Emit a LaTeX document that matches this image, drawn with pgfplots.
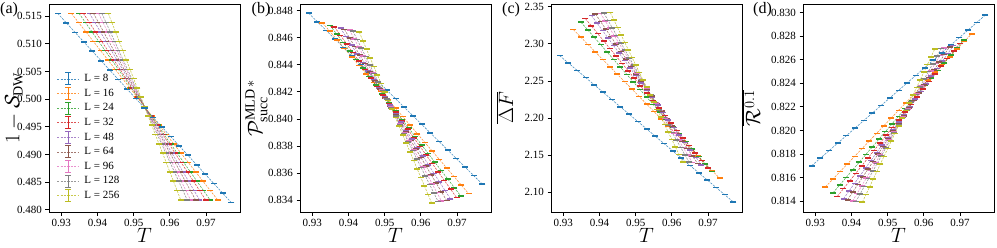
\documentclass[border=0pt]{standalone}
\usepackage{fontspec}
\setmainfont{Liberation Serif}
\usepackage{pgfplots}
\usepackage{pgfplotstable}
\pgfplotsset{compat=1.18}

\definecolor{c0}{HTML}{1F77B4}
\definecolor{c1}{HTML}{FF7F0E}
\definecolor{c2}{HTML}{2CA02C}
\definecolor{c3}{HTML}{D62728}
\definecolor{c4}{HTML}{9467BD}
\definecolor{c5}{HTML}{8C564B}
\definecolor{c6}{HTML}{E377C2}
\definecolor{c7}{HTML}{7F7F7F}
\definecolor{c8}{HTML}{BCBD22}

% columns: T, a = 1-S_DW, b = P_succ, c = DeltaF, d = R^0.1
\pgfplotstableread{
T a b c d
0.9290 0.51550 0.84780 2.28400 0.81700
0.9314 0.51379 0.84717 2.27415 0.81764
0.9338 0.51208 0.84654 2.26430 0.81828
0.9362 0.51037 0.84591 2.25445 0.81892
0.9386 0.50866 0.84528 2.24460 0.81956
0.9410 0.50695 0.84465 2.23475 0.82020
0.9434 0.50524 0.84402 2.22490 0.82084
0.9458 0.50353 0.84339 2.21505 0.82148
0.9482 0.50182 0.84276 2.20520 0.82212
0.9506 0.50011 0.84213 2.19535 0.82276
0.9530 0.49840 0.84150 2.18550 0.82340
0.9554 0.49669 0.84087 2.17565 0.82404
0.9578 0.49498 0.84024 2.16580 0.82468
0.9602 0.49327 0.83961 2.15595 0.82532
0.9626 0.49156 0.83898 2.14610 0.82596
0.9650 0.48985 0.83835 2.13625 0.82660
0.9674 0.48814 0.83772 2.12640 0.82724
0.9698 0.48643 0.83709 2.11655 0.82788
0.9722 0.48472 0.83646 2.10670 0.82852
0.9746 0.48301 0.83583 2.09685 0.82916
0.9770 0.48130 0.83520 2.08700 0.82980
}\dA

\pgfplotstableread{
T a b c d
0.93280 0.51550 0.84710 2.319 0.81520
0.93482 0.51382 0.84647 2.309 0.81585
0.93684 0.51213 0.84584 2.299 0.81650
0.93886 0.51045 0.84521 2.289 0.81715
0.94088 0.50876 0.84458 2.279 0.81780
0.94290 0.50708 0.84395 2.269 0.81845
0.94492 0.50539 0.84332 2.259 0.81910
0.94694 0.50371 0.84269 2.249 0.81975
0.94896 0.50202 0.84206 2.239 0.82040
0.95098 0.50034 0.84143 2.229 0.82105
0.95300 0.49865 0.84080 2.219 0.82170
0.95502 0.49697 0.84017 2.209 0.82235
0.95704 0.49528 0.83954 2.199 0.82300
0.95906 0.49360 0.83891 2.189 0.82365
0.96108 0.49191 0.83828 2.179 0.82430
0.96310 0.49023 0.83765 2.169 0.82495
0.96512 0.48854 0.83702 2.159 0.82560
0.96714 0.48686 0.83639 2.149 0.82625
0.96916 0.48517 0.83576 2.139 0.82690
0.97118 0.48349 0.83513 2.129 0.82755
0.97320 0.48180 0.83450 2.119 0.82820
}\dB

\pgfplotstableread{
T a b c d
0.93490 0.51550 0.84690 2.32900 0.81470
0.93671 0.51382 0.84627 2.31895 0.81535
0.93852 0.51213 0.84564 2.30890 0.81600
0.94033 0.51045 0.84501 2.29885 0.81665
0.94214 0.50876 0.84438 2.28880 0.81730
0.94395 0.50708 0.84375 2.27875 0.81795
0.94576 0.50539 0.84312 2.26870 0.81860
0.94757 0.50371 0.84249 2.25865 0.81925
0.94938 0.50202 0.84186 2.24860 0.81990
0.95119 0.50034 0.84123 2.23855 0.82055
0.95300 0.49865 0.84060 2.22850 0.82120
0.95481 0.49697 0.83997 2.21845 0.82185
0.95662 0.49528 0.83934 2.20840 0.82250
0.95843 0.49360 0.83871 2.19835 0.82315
0.96024 0.49191 0.83808 2.18830 0.82380
0.96205 0.49023 0.83745 2.17825 0.82445
0.96386 0.48854 0.83682 2.16820 0.82510
0.96567 0.48686 0.83619 2.15815 0.82575
0.96748 0.48517 0.83556 2.14810 0.82640
0.96929 0.48349 0.83493 2.13805 0.82705
0.97110 0.48180 0.83430 2.12800 0.82770
}\dC

\pgfplotstableread{
T a b c d
0.93610 0.51550 0.84680 2.33400 0.81440
0.93779 0.51382 0.84617 2.32395 0.81505
0.93948 0.51213 0.84554 2.31390 0.81570
0.94117 0.51045 0.84491 2.30385 0.81635
0.94286 0.50876 0.84428 2.29380 0.81700
0.94455 0.50708 0.84365 2.28375 0.81765
0.94624 0.50539 0.84302 2.27370 0.81830
0.94793 0.50371 0.84239 2.26365 0.81895
0.94962 0.50202 0.84176 2.25360 0.81960
0.95131 0.50034 0.84113 2.24355 0.82025
0.95300 0.49865 0.84050 2.23350 0.82090
0.95469 0.49697 0.83987 2.22345 0.82155
0.95638 0.49528 0.83924 2.21340 0.82220
0.95807 0.49360 0.83861 2.20335 0.82285
0.95976 0.49191 0.83798 2.19330 0.82350
0.96145 0.49023 0.83735 2.18325 0.82415
0.96314 0.48854 0.83672 2.17320 0.82480
0.96483 0.48686 0.83609 2.16315 0.82545
0.96652 0.48517 0.83546 2.15310 0.82610
0.96821 0.48349 0.83483 2.14305 0.82675
0.96990 0.48180 0.83420 2.13300 0.82740
}\dD

\pgfplotstableread{
T a b c d
0.93780 0.51550 0.84670 2.33800 0.81420
0.93932 0.51382 0.84607 2.32795 0.81485
0.94084 0.51213 0.84544 2.31790 0.81550
0.94236 0.51045 0.84481 2.30785 0.81615
0.94388 0.50876 0.84418 2.29780 0.81680
0.94540 0.50708 0.84355 2.28775 0.81745
0.94692 0.50539 0.84292 2.27770 0.81810
0.94844 0.50371 0.84229 2.26765 0.81875
0.94996 0.50202 0.84166 2.25760 0.81940
0.95148 0.50034 0.84103 2.24755 0.82005
0.95300 0.49865 0.84040 2.23750 0.82070
0.95452 0.49697 0.83977 2.22745 0.82135
0.95604 0.49528 0.83914 2.21740 0.82200
0.95756 0.49360 0.83851 2.20735 0.82265
0.95908 0.49191 0.83788 2.19730 0.82330
0.96060 0.49023 0.83725 2.18725 0.82395
0.96212 0.48854 0.83662 2.17720 0.82460
0.96364 0.48686 0.83599 2.16715 0.82525
0.96516 0.48517 0.83536 2.15710 0.82590
0.96668 0.48349 0.83473 2.14705 0.82655
0.96820 0.48180 0.83410 2.13700 0.82720
}\dE

\pgfplotstableread{
T a b c d
0.93890 0.51550 0.84660 2.34000 0.81410
0.94031 0.51382 0.84597 2.32995 0.81475
0.94172 0.51213 0.84534 2.31990 0.81540
0.94313 0.51045 0.84471 2.30985 0.81605
0.94454 0.50876 0.84408 2.29980 0.81670
0.94595 0.50708 0.84345 2.28975 0.81735
0.94736 0.50539 0.84282 2.27970 0.81800
0.94877 0.50371 0.84219 2.26965 0.81865
0.95018 0.50202 0.84156 2.25960 0.81930
0.95159 0.50034 0.84093 2.24955 0.81995
0.95300 0.49865 0.84030 2.23950 0.82060
0.95441 0.49697 0.83967 2.22945 0.82125
0.95582 0.49528 0.83904 2.21940 0.82190
0.95723 0.49360 0.83841 2.20935 0.82255
0.95864 0.49191 0.83778 2.19930 0.82320
0.96005 0.49023 0.83715 2.18925 0.82385
0.96146 0.48854 0.83652 2.17920 0.82450
0.96287 0.48686 0.83589 2.16915 0.82515
0.96428 0.48517 0.83526 2.15910 0.82580
0.96569 0.48349 0.83463 2.14905 0.82645
0.96710 0.48180 0.83400 2.13900 0.82710
}\dF

\pgfplotstableread{
T a b c d
0.94030 0.51550 0.84655 2.34100 0.81400
0.94157 0.51382 0.84592 2.33095 0.81465
0.94284 0.51213 0.84529 2.32090 0.81530
0.94411 0.51045 0.84466 2.31085 0.81595
0.94538 0.50876 0.84403 2.30080 0.81660
0.94665 0.50708 0.84340 2.29075 0.81725
0.94792 0.50539 0.84277 2.28070 0.81790
0.94919 0.50371 0.84214 2.27065 0.81855
0.95046 0.50202 0.84151 2.26060 0.81920
0.95173 0.50034 0.84088 2.25055 0.81985
0.95300 0.49865 0.84025 2.24050 0.82050
0.95427 0.49697 0.83962 2.23045 0.82115
0.95554 0.49528 0.83899 2.22040 0.82180
0.95681 0.49360 0.83836 2.21035 0.82245
0.95808 0.49191 0.83773 2.20030 0.82310
0.95935 0.49023 0.83710 2.19025 0.82375
0.96062 0.48854 0.83647 2.18020 0.82440
0.96189 0.48686 0.83584 2.17015 0.82505
0.96316 0.48517 0.83521 2.16010 0.82570
0.96443 0.48349 0.83458 2.15005 0.82635
0.96570 0.48180 0.83395 2.14000 0.82700
}\dG

\pgfplotstableread{
T a b c d
0.94120 0.51550 0.84650 2.34150 0.81395
0.94238 0.51382 0.84587 2.33145 0.81460
0.94356 0.51213 0.84524 2.32140 0.81525
0.94474 0.51045 0.84461 2.31135 0.81590
0.94592 0.50876 0.84398 2.30130 0.81655
0.94710 0.50708 0.84335 2.29125 0.81720
0.94828 0.50539 0.84272 2.28120 0.81785
0.94946 0.50371 0.84209 2.27115 0.81850
0.95064 0.50202 0.84146 2.26110 0.81915
0.95182 0.50034 0.84083 2.25105 0.81980
0.95300 0.49865 0.84020 2.24100 0.82045
0.95418 0.49697 0.83957 2.23095 0.82110
0.95536 0.49528 0.83894 2.22090 0.82175
0.95654 0.49360 0.83831 2.21085 0.82240
0.95772 0.49191 0.83768 2.20080 0.82305
0.95890 0.49023 0.83705 2.19075 0.82370
0.96008 0.48854 0.83642 2.18070 0.82435
0.96126 0.48686 0.83579 2.17065 0.82500
0.96244 0.48517 0.83516 2.16060 0.82565
0.96362 0.48349 0.83453 2.15055 0.82630
0.96480 0.48180 0.83390 2.14050 0.82695
}\dH

\pgfplotstableread{
T a b c d
0.9430 0.51550 0.84640 2.34200 0.81390
0.9440 0.51382 0.84577 2.33195 0.81455
0.9450 0.51213 0.84514 2.32190 0.81520
0.9460 0.51045 0.84451 2.31185 0.81585
0.9470 0.50876 0.84388 2.30180 0.81650
0.9480 0.50708 0.84325 2.29175 0.81715
0.9490 0.50539 0.84262 2.28170 0.81780
0.9500 0.50371 0.84199 2.27165 0.81845
0.9510 0.50202 0.84136 2.26160 0.81910
0.9520 0.50034 0.84073 2.25155 0.81975
0.9530 0.49865 0.84010 2.24150 0.82040
0.9540 0.49697 0.83947 2.23145 0.82105
0.9550 0.49528 0.83884 2.22140 0.82170
0.9560 0.49360 0.83821 2.21135 0.82235
0.9570 0.49191 0.83758 2.20130 0.82300
0.9580 0.49023 0.83695 2.19125 0.82365
0.9590 0.48854 0.83632 2.18120 0.82430
0.9600 0.48686 0.83569 2.17115 0.82495
0.9610 0.48517 0.83506 2.16110 0.82560
0.9620 0.48349 0.83443 2.15105 0.82625
0.9630 0.48180 0.83380 2.14100 0.82690
}\dI

\pgfplotsset{
  ser/.style={color=#1, line width=0.6pt, dash pattern=on 2.2pt off 1.2pt,
    draw opacity=0.8, mark=-, mark size=3pt,
    mark options={solid, draw opacity=1, line width=1.6pt}},
  legend image code/.code={
    \path[draw=none, fill=none] (0pt,-7pt) rectangle (26pt,7pt);
    \draw[#1, mark=none] (0pt,0pt) -- (22pt,0pt);
    \draw[#1, mark=none, solid, draw opacity=1, line width=0.9pt]
      (11pt,-6pt) -- (11pt,6pt) (8pt,-6pt) -- (14pt,-6pt) (8pt,6pt) -- (14pt,6pt);
  },
  panel/.style={
    width=191pt, height=208pt, scale only axis,
    xmin=0.9266, xmax=0.9794,
    xtick={0.93,0.94,0.95,0.96,0.97},
    tick pos=left, tick align=outside, major tick length=3.5pt,
    tick style={black, line width=0.8pt},
    axis line style={line width=0.8pt},
    tick label style={font=\fontsize{11}{13}\selectfont},
    /pgf/number format/assume math mode=true,
    scaled ticks=false,
    xticklabel style={/pgf/number format/fixed, /pgf/number format/fixed zerofill, /pgf/number format/precision=2},
    xlabel={$T$},
    xlabel style={font=\fontsize{20}{24}\selectfont, at={(axis description cs:0.5,-0.112)}, anchor=center},
    ylabel style={font=\fontsize{20}{24}\selectfont, anchor=center},
  },
}

\begin{document}
\begin{tikzpicture}[x=1pt,y=1pt]

% (a)
\begin{axis}[panel, at={(49pt,35pt)}, anchor=south west,
  ymin=0.4796, ymax=0.5172,
  ytick={0.480,0.485,0.490,0.495,0.500,0.505,0.510,0.515},
  yticklabel style={/pgf/number format/fixed, /pgf/number format/fixed zerofill, /pgf/number format/precision=3},
  ylabel={$1-\mathcal{S}_{\mathrm{DW}}$},
  ylabel style={at={(axis description cs:-0.183,0.5)}},
  legend cell align=left,
  legend style={at={(axis description cs:0.040,0.675)}, anchor=north west,
    draw=none, fill=none, inner sep=0pt, row sep=0.6pt,
    nodes={inner sep=1.3pt}, font=\fontsize{11}{13}\selectfont},
]
\addplot[ser=c0] table[x=T,y=a]{\dA}; \addlegendentry{L = 8}
\addplot[ser=c1] table[x=T,y=a]{\dB}; \addlegendentry{L = 16}
\addplot[ser=c2] table[x=T,y=a]{\dC}; \addlegendentry{L = 24}
\addplot[ser=c3] table[x=T,y=a]{\dD}; \addlegendentry{L = 32}
\addplot[ser=c4] table[x=T,y=a]{\dE}; \addlegendentry{L = 48}
\addplot[ser=c5] table[x=T,y=a]{\dF}; \addlegendentry{L = 64}
\addplot[ser=c6] table[x=T,y=a]{\dG}; \addlegendentry{L = 96}
\addplot[ser=c7] table[x=T,y=a]{\dH}; \addlegendentry{L = 128}
\addplot[ser=c8] table[x=T,y=a]{\dI}; \addlegendentry{L = 256}
\end{axis}

% (b)
\begin{axis}[panel, at={(300pt,35pt)}, anchor=south west,
  ymin=0.83314, ymax=0.84848,
  ytick={0.834,0.836,0.838,0.840,0.842,0.844,0.846,0.848},
  yticklabel style={/pgf/number format/fixed, /pgf/number format/fixed zerofill, /pgf/number format/precision=3},
  ylabel={$\mathcal{P}^{\mathrm{MLD}\,*}_{\mathrm{succ}}$},
  ylabel style={at={(axis description cs:-0.228,0.5)}},
]
\addplot[ser=c0] table[x=T,y=b]{\dA};
\addplot[ser=c1] table[x=T,y=b]{\dB};
\addplot[ser=c2] table[x=T,y=b]{\dC};
\addplot[ser=c3] table[x=T,y=b]{\dD};
\addplot[ser=c4] table[x=T,y=b]{\dE};
\addplot[ser=c5] table[x=T,y=b]{\dF};
\addplot[ser=c6] table[x=T,y=b]{\dG};
\addplot[ser=c7] table[x=T,y=b]{\dH};
\addplot[ser=c8] table[x=T,y=b]{\dI};
\end{axis}

% (c)
\begin{axis}[panel, at={(551pt,35pt)}, anchor=south west,
  ymin=2.0735, ymax=2.3536,
  ytick={2.10,2.15,2.20,2.25,2.30,2.35},
  yticklabel style={/pgf/number format/fixed, /pgf/number format/fixed zerofill, /pgf/number format/precision=2},
  ylabel={$\overline{\Delta F}$},
  ylabel style={at={(axis description cs:-0.24,0.5)}},
]
\addplot[ser=c0] table[x=T,y=c]{\dA};
\addplot[ser=c1] table[x=T,y=c]{\dB};
\addplot[ser=c2] table[x=T,y=c]{\dC};
\addplot[ser=c3] table[x=T,y=c]{\dD};
\addplot[ser=c4] table[x=T,y=c]{\dE};
\addplot[ser=c5] table[x=T,y=c]{\dF};
\addplot[ser=c6] table[x=T,y=c]{\dG};
\addplot[ser=c7] table[x=T,y=c]{\dH};
\addplot[ser=c8] table[x=T,y=c]{\dI};
\end{axis}

% (d)
\begin{axis}[panel, at={(803pt,35pt)}, anchor=south west,
  ymin=0.81307, ymax=0.83074,
  ytick={0.814,0.816,0.818,0.820,0.822,0.824,0.826,0.828,0.830},
  yticklabel style={/pgf/number format/fixed, /pgf/number format/fixed zerofill, /pgf/number format/precision=3},
  ylabel={$\overline{\mathcal{R}^{0.1}}$},
  ylabel style={at={(axis description cs:-0.27,0.5)}},
]
\addplot[ser=c0] table[x=T,y=d]{\dA};
\addplot[ser=c1] table[x=T,y=d]{\dB};
\addplot[ser=c2] table[x=T,y=d]{\dC};
\addplot[ser=c3] table[x=T,y=d]{\dD};
\addplot[ser=c4] table[x=T,y=d]{\dE};
\addplot[ser=c5] table[x=T,y=d]{\dF};
\addplot[ser=c6] table[x=T,y=d]{\dG};
\addplot[ser=c7] table[x=T,y=d]{\dH};
\addplot[ser=c8] table[x=T,y=d]{\dI};
\end{axis}

\node[anchor=west, inner sep=0pt, font=\fontsize{16}{19}\selectfont] at (0,237.5) {(a)};
\node[anchor=west, inner sep=0pt, font=\fontsize{16}{19}\selectfont] at (251.5,237.5) {(b)};
\node[anchor=west, inner sep=0pt, font=\fontsize{16}{19}\selectfont] at (502,237.5) {(c)};
\node[anchor=west, inner sep=0pt, font=\fontsize{16}{19}\selectfont] at (753,237.5) {(d)};

\pgfresetboundingbox
\useasboundingbox (0,0) rectangle (997,247);
\end{tikzpicture}
\end{document}
